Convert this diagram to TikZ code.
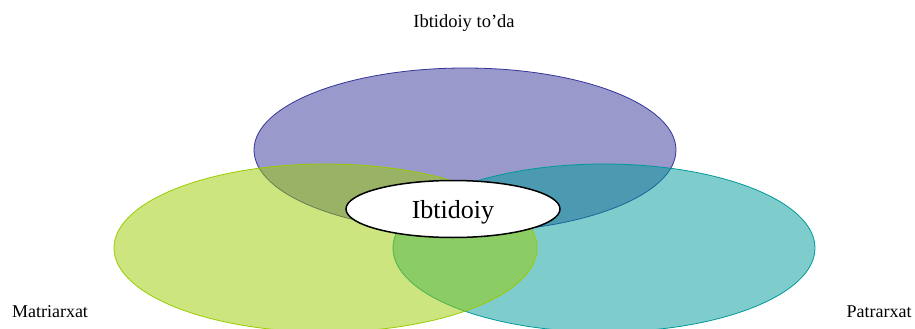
\documentclass[tikz,border=0pt]{standalone}
\usepackage{fontspec}
\setmainfont{Liberation Serif}
\usetikzlibrary{shapes.geometric}

\definecolor{toda}{RGB}{51,51,153}
\definecolor{patr}{RGB}{0,153,153}
\definecolor{matr}{RGB}{153,204,0}

\tikzset{
  blob/.style={fill opacity=0.5, draw opacity=1, line width=0.8pt},
  lbl/.style={anchor=base, font=\fontsize{18}{20}\selectfont}
}

\begin{document}
\begin{tikzpicture}[x=1pt,y=-1pt]
\useasboundingbox (0,0) rectangle (915,329);
\clip (0,0) rectangle (915,329);

% Draw the three groups
\draw[blob, draw=toda, fill=toda] (465,150) ellipse (211 and 82);
\draw[blob, draw=patr, fill=patr] (604,248) ellipse (211 and 84);
\draw[blob, draw=matr, fill=matr] (325.5,248) ellipse (211.5 and 84);

% Centre label
\node[ellipse, draw, fill=white, line width=1.5pt, minimum width=214, minimum height=57,
      inner sep=0pt, text depth=0pt, yshift=-2pt, font=\fontsize{26}{28}\selectfont] (core) at (453,207) {Ibtidoiy};

% Add labels
\node[lbl, font=\fontsize{18.5}{20}\selectfont] (toplbl) at (464,28) {Ibtidoiy to’da};
\node[lbl] (leftlbl) at (50,317) {Matriarxat};
\node[lbl] (rightlbl) at (879,317) {Patrarxat};
\end{tikzpicture}
\end{document}
